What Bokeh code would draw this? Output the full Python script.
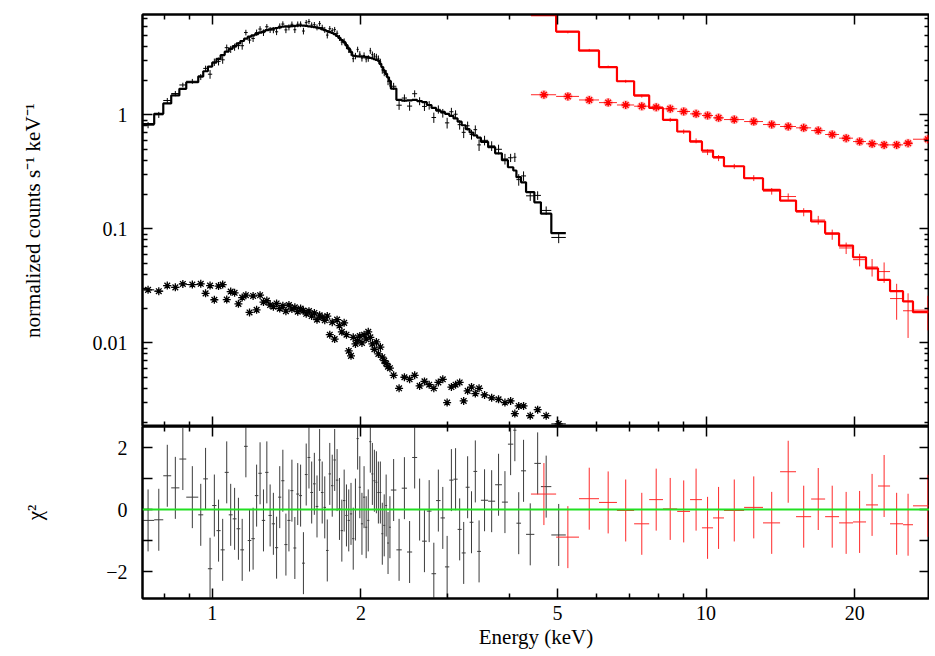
import numpy as np
from bokeh.plotting import figure
from bokeh.layouts import column
from bokeh.models import Range1d, LogAxis, LinearAxis, FixedTicker, CustomJSTickFormatter, Span
from bokeh.embed import file_html
from bokeh.resources import INLINE

# ---------------- values ----------------
# black spectrum: bin edges (keV), folded model, chi residual, fractional error, star series
black_edges = [0.72, 0.763, 0.796, 0.826, 0.858, 0.886, 0.937, 0.959,
               0.98, 1.00, 1.02, 1.04, 1.06, 1.08, 1.10, 1.12, 1.14, 1.16, 1.18, 1.20, 1.22,
               1.24, 1.26, 1.28, 1.30, 1.32, 1.34, 1.36, 1.38, 1.40, 1.42, 1.44, 1.46, 1.48, 1.50,
               1.52, 1.54, 1.56, 1.58, 1.60, 1.62, 1.64, 1.66, 1.68, 1.70, 1.72, 1.74, 1.76, 1.78,
               1.80, 1.82, 1.84, 1.86, 1.88, 1.90, 1.92, 1.94, 1.96, 1.98, 2.00, 2.02, 2.04, 2.06,
               2.08, 2.10, 2.12, 2.14, 2.16, 2.18, 2.20, 2.22, 2.24, 2.26, 2.28, 2.30,
               2.36, 2.42, 2.48, 2.54, 2.60, 2.66, 2.72, 2.78, 2.84, 2.90, 2.96, 3.02, 3.08, 3.14,
               3.20, 3.26, 3.32, 3.38, 3.44, 3.50,
               3.62, 3.74, 3.86, 3.97,
               4.07, 4.13, 4.22, 4.32, 4.49, 4.63, 4.86, 5.20]
black_model = [0.83, 1.02, 1.26, 1.48, 1.69, 1.93, 2.17, 2.41,
               2.65, 2.87, 3.10, 3.34, 3.58, 3.80, 4.01, 4.23, 4.44, 4.65, 4.84, 4.98, 5.11,
               5.25, 5.38, 5.52, 5.62, 5.69, 5.77, 5.84, 5.92, 5.96, 5.98, 6.00, 6.02, 6.04,
               6.07, 6.06, 6.02, 5.97, 5.92, 5.87, 5.82, 5.75, 5.64, 5.54, 5.43, 5.32, 5.22,
               5.10, 4.91, 4.72, 4.53, 4.34, 4.08, 3.82, 3.56, 3.31, 3.28, 3.26, 3.25, 3.24,
               3.23, 3.21, 3.20, 3.16, 3.12, 3.07, 3.03, 2.99, 2.80, 2.62, 2.44, 2.29, 2.13, 1.98,
               1.70, 1.355, 1.33, 1.34, 1.35, 1.32, 1.29, 1.22, 1.15, 1.09, 1.06, 1.02, 0.98,
               0.93, 0.87, 0.81, 0.75, 0.70, 0.66, 0.63,
               0.58, 0.52, 0.46, 0.40,
               0.347, 0.325, 0.284, 0.256, 0.210, 0.171, 0.136, 0.0916]
black_resid = [-0.35, -0.33, 1.09, 0.70, 1.63, 0.40, -0.17, 0.99,
               -1.91, 0.13, -0.68, -1.30, 1.20, -0.17, -0.30, -0.62, -1.30, 2.04, -1.00, -0.94, 0.45,
               1.17, -0.35, 1.20, -0.19, -0.46, -1.23, 0.40, 0.93, -1.13, -0.35, 0.61, -1.24, 0.50,
               0.45, -1.73, 1.13, 1.68, 0.55, 0.83, 0.10, 1.60, 0.55, 0.07, -1.32, 1.15, 0.77,
               1.60, 0.95, 0.02, -0.68, 0.29, -0.19, -0.35, -0.14, -0.94, 0.00, 2.29, 0.72, -0.46,
               0.40, -0.57, -0.35, 2.19, 1.15, 0.93, 0.88, 0.55, 0.55, -0.78, -0.51, 0.13, -1.08, -0.57,
               0.63, -1.30, 0.69, -1.37, 1.68, 0.00, -1.02, -0.05, -2.07, 0.29, -0.27, -1.85, 0.95,
               0.98, -0.64, -1.40, 0.72, -0.41, 1.23, -1.35,
               0.30, 0.27, 0.80, 0.24,
               2.11, 2.56, -0.44, 1.25, -0.80, 1.49, 0.74, -0.82]
black_err = [0.06, 0.06, 0.055, 0.055, 0.05, 0.05, 0.06, 0.06,
             0.075, 0.075, 0.075, 0.07, 0.07, 0.07, 0.07, 0.07, 0.07, 0.065, 0.065, 0.065, 0.065,
             0.065, 0.065, 0.06, 0.06, 0.06, 0.06, 0.06, 0.06, 0.06, 0.06, 0.06, 0.06, 0.06,
             0.06, 0.06, 0.06, 0.06, 0.06, 0.06, 0.06, 0.06, 0.06, 0.06, 0.06, 0.06, 0.06,
             0.06, 0.06, 0.06, 0.06, 0.06, 0.065, 0.065, 0.065, 0.065, 0.065, 0.065, 0.065, 0.065,
             0.065, 0.065, 0.065, 0.07, 0.07, 0.07, 0.07, 0.07, 0.07, 0.07, 0.07, 0.07, 0.07, 0.07,
             0.075, 0.08, 0.08, 0.08, 0.08, 0.08, 0.08, 0.085, 0.085, 0.085, 0.085, 0.09, 0.09,
             0.09, 0.09, 0.095, 0.095, 0.095, 0.10, 0.10,
             0.10, 0.10, 0.105, 0.11,
             0.10, 0.12, 0.11, 0.11, 0.09, 0.10, 0.09, 0.10]
black_star = [0.0292, 0.0284, 0.0318, 0.0307, 0.0329, 0.0325, 0.0330, 0.0272,
              0.0318, 0.0239, 0.0315, 0.0325, 0.0240, 0.0282, 0.0275, 0.0220, 0.0250, 0.0262, 0.0185,
              0.0258, 0.0195, 0.0262, 0.0228, 0.0235, 0.0215, 0.0208, 0.0222, 0.0200, 0.0212, 0.0190,
              0.0215, 0.0198, 0.0205, 0.0188,
              0.0200, 0.0192, 0.0180, 0.0190, 0.0172, 0.0183, 0.0160, 0.0175, 0.0168, 0.0158, 0.0172,
              0.0118, 0.0152, 0.0108, 0.0160, 0.0142, 0.0125, 0.0150, 0.0118, 0.0085, 0.0077, 0.0112,
              0.0098, 0.0105, 0.0115, 0.0100, 0.0118, 0.0108, 0.0125, 0.0112, 0.0098, 0.0088, 0.0102,
              0.0080, 0.0092, 0.0075, 0.0070, 0.0066, 0.0062, 0.0060,
              0.0052, 0.0040, 0.0050, 0.0048, 0.0052, 0.0042, 0.0046, 0.0043, 0.0040, 0.0045, 0.0048,
              0.0030, 0.0041, 0.0043, 0.0045, 0.0031, 0.0038, 0.0041, 0.0036, 0.0040,
              0.0035, 0.0033, 0.0032, 0.0030,
              0.0031, 0.0024, 0.0028, 0.0028, 0.0023, 0.0026, 0.0023, 0.00195]

# red spectrum
red_edges = [4.42, 4.97, 5.53, 6.07, 6.60, 7.15, 7.67, 8.18, 8.74, 9.28, 9.81, 10.33, 10.87,
             11.94, 13.04, 14.12, 15.21, 16.32, 17.42, 18.59, 19.84, 21.08, 22.29, 23.58, 25.05,
             26.24, 30.0]
red_model = [7.5, 5.38, 3.66, 2.62, 1.97, 1.48, 1.15, 0.904, 0.714, 0.583, 0.486, 0.425, 0.354,
             0.278, 0.220, 0.177, 0.143, 0.116, 0.0915, 0.0714, 0.0564, 0.0451, 0.0357, 0.0284,
             0.0231, 0.0186]
red_resid = [0.50, -0.89, 0.35, 0.23, -0.03, -0.46, 0.32, 0.02, -0.06, 0.32, -0.59, -0.27, -0.03,
             0.07, -0.43, 1.22, -0.23, 0.34, -0.23, -0.43, -0.40, 0.15, 0.76, -0.46, -0.49, 0.12]
red_err = [0.02, 0.02, 0.025, 0.025, 0.03, 0.03, 0.035, 0.04, 0.045, 0.05, 0.055, 0.06, 0.05,
           0.06, 0.065, 0.07, 0.08, 0.09, 0.10, 0.11, 0.12, 0.18, 0.24, 0.30, 0.35, 0.35]
red_star = [1.50, 1.45, 1.35, 1.28, 1.22, 1.19, 1.166, 1.13, 1.07, 1.02, 0.986, 0.941, 0.909,
            0.873, 0.822, 0.79, 0.769, 0.728, 0.672, 0.624, 0.583, 0.557, 0.545, 0.545, 0.563, 0.611]

# axes
x_major = [1, 2, 5, 10, 20]
x_minor = [0.8, 0.9, 3, 4, 6, 7, 8, 9]
y_major = [0.01, 0.1, 1]
y_minor = [0.002, 0.003, 0.004, 0.005, 0.006, 0.007, 0.008, 0.009,
           0.02, 0.03, 0.04, 0.05, 0.06, 0.07, 0.08, 0.09,
           0.2, 0.3, 0.4, 0.5, 0.6, 0.7, 0.8, 0.9, 2, 3, 4, 5, 6, 7]
r_major = [-2, -1, 0, 1, 2]
x_label = "Energy (keV)"
y_label = "normalized counts s\u207b\u00b9 keV\u207b\u00b9"
r_label = "\u03c7\u00b2"

FONT = "Liberation Serif"
FS = "20px"
LFS = "21px"


def spectrum(edges, model, resid, err):
    be = np.array(edges, dtype=float)
    lo, hi = be[:-1], be[1:]
    ctr = 0.5 * (lo + hi)
    m = np.array(model, dtype=float)
    r = np.array(resid, dtype=float)
    sig = m * np.array(err, dtype=float)
    d = m + r * sig          # observed rate, from model, chi residual and its error
    return lo, hi, ctr, m, r, d, sig


blank_fmt = CustomJSTickFormatter(code="return '';")


def style_axis(ax, labels):
    ax.axis_line_color = "black"
    ax.axis_line_width = 2
    ax.major_tick_in = 10
    ax.major_tick_out = 0
    ax.minor_tick_in = 5
    ax.minor_tick_out = 0
    ax.major_tick_line_color = "black"
    ax.minor_tick_line_color = "black"
    ax.major_tick_line_width = 1.5
    ax.minor_tick_line_width = 1.5
    if labels:
        ax.major_label_text_font = FONT
        ax.major_label_text_font_size = FS
        ax.major_label_text_color = "black"
        ax.axis_label_text_font = FONT
        ax.axis_label_text_font_size = LFS
        ax.axis_label_text_font_style = "normal"
        ax.axis_label_text_color = "black"
    else:
        ax.formatter = blank_fmt
        ax.major_label_text_font_size = "1px"
        ax.major_label_standoff = 0


x_fmt = CustomJSTickFormatter(code="return tick.toFixed(0);")
y_fmt = CustomJSTickFormatter(code="if (tick >= 1) {return tick.toFixed(0);} "
                                   "if (tick >= 0.099) {return tick.toFixed(1);} "
                                   "return tick.toFixed(2);")
r_fmt = CustomJSTickFormatter(code="if (Math.abs(tick) > 0.5 && Math.abs(tick) < 1.5) {return '';} "
                                   "if (tick < 0) {return '\u2212' + Math.abs(tick).toFixed(0);} "
                                   "return tick.toFixed(0);")

xr = Range1d(0.7225, 28.34)

top = figure(x_axis_type="log", y_axis_type="log", x_range=xr, y_range=Range1d(0.00185, 7.58),
             frame_width=787, frame_height=412, min_border_left=142, min_border_right=0,
             min_border_top=14, min_border_bottom=0, output_backend="svg", toolbar_location=None,
             background_fill_color="white", border_fill_color="white")
bot = figure(x_axis_type="log", x_range=xr, y_range=Range1d(-2.87, 2.68),
             frame_width=787, frame_height=172, min_border_left=142, min_border_right=0,
             min_border_top=0, min_border_bottom=0, output_backend="svg", toolbar_location=None,
             background_fill_color="white", border_fill_color="white")

for p in (top, bot):
    p.grid.visible = False
    p.outline_line_color = "black"
    p.outline_line_width = 2
    p.outline_line_alpha = 1.0

xt = FixedTicker(ticks=x_major, minor_ticks=x_minor)
yt = FixedTicker(ticks=y_major, minor_ticks=y_minor)
rt = FixedTicker(ticks=r_major, minor_ticks=[])

# top panel axes
top.xaxis.ticker = xt
style_axis(top.xaxis[0], False)
top.yaxis.ticker = yt
top.yaxis.formatter = y_fmt
top.yaxis.axis_label = y_label
style_axis(top.yaxis[0], True)
top.yaxis.major_label_standoff = 15
top.yaxis.axis_label_standoff = 45
ax = LogAxis(ticker=xt)
style_axis(ax, False)
top.add_layout(ax, "above")
ax = LogAxis(ticker=yt)
style_axis(ax, False)
top.add_layout(ax, "right")

# bottom panel axes
bot.xaxis.ticker = xt
bot.xaxis.formatter = x_fmt
bot.xaxis.axis_label = x_label
style_axis(bot.xaxis[0], True)
bot.xaxis.major_label_standoff = 7
bot.xaxis.axis_label_standoff = 2
bot.yaxis.ticker = rt
bot.yaxis.formatter = r_fmt
bot.yaxis.axis_label = r_label
style_axis(bot.yaxis[0], True)
bot.yaxis.major_label_standoff = 15
bot.yaxis.axis_label_standoff = 56
ax = LogAxis(ticker=xt)
style_axis(ax, False)
bot.add_layout(ax, "above")
ax = LinearAxis(ticker=rt)
style_axis(ax, False)
bot.add_layout(ax, "right")

# ---------------- black spectrum ----------------
lo, hi, ctr, m, r, d, sig = spectrum(black_edges, black_model, black_resid, black_err)
top.segment(x0=ctr, y0=d - sig, x1=ctr, y1=d + sig, line_color="black", line_width=1)
top.segment(x0=lo, y0=d, x1=hi, y1=d, line_color="black", line_width=1)
top.step(x=list(black_edges), y=list(m) + [m[-1]], mode="after", line_color="black", line_width=2.2)
top.segment(x0=lo, y0=black_star, x1=hi, y1=black_star, line_color="black", line_width=1)
top.scatter(x=ctr, y=black_star, marker="asterisk", size=8, line_color="black", line_width=1.3)
bot.segment(x0=ctr, y0=r - 1, x1=ctr, y1=r + 1, line_color="#3c3c3c", line_width=1)
bot.segment(x0=lo, y0=r, x1=hi, y1=r, line_color="#3c3c3c", line_width=1)

# ---------------- red spectrum ----------------
lo, hi, ctr, m, r, d, sig = spectrum(red_edges, red_model, red_resid, red_err)
RED = "#ff0000"
top.segment(x0=ctr, y0=d - sig, x1=ctr, y1=d + sig, line_color=RED, line_width=1, line_alpha=0.85)
top.segment(x0=lo, y0=d, x1=hi, y1=d, line_color=RED, line_width=1, line_alpha=0.85)
top.step(x=list(red_edges), y=list(m) + [m[-1]], mode="after", line_color=RED, line_width=2.2)
top.segment(x0=lo, y0=red_star, x1=hi, y1=red_star, line_color=RED, line_width=1, line_alpha=0.85)
top.scatter(x=ctr, y=red_star, marker="asterisk", size=9, line_color=RED, line_width=3.5, line_alpha=0.25)
top.scatter(x=ctr, y=red_star, marker="asterisk", size=8, line_color=RED, line_width=1.4)
bot.segment(x0=ctr, y0=r - 1, x1=ctr, y1=r + 1, line_color="#ff2a2a", line_width=1)
bot.segment(x0=lo, y0=r, x1=hi, y1=r, line_color="#ff2a2a", line_width=1)

bot.add_layout(Span(location=0, dimension="width", line_color="#22e022", line_width=2))

layout = column(top, bot)
open("out.html", "w").write(file_html(layout, INLINE))
